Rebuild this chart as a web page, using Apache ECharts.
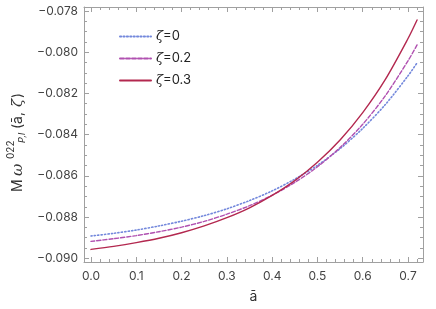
<!DOCTYPE html>
<html><head><meta charset="utf-8">
<script src="https://cdn.jsdelivr.net/npm/echarts@6/dist/echarts.min.js"></script>
<style>html,body{margin:0;padding:0;background:#fff}#c{width:436px;height:309px}</style>
</head><body><div id="c"></div>
<script>
const aBar = [0,0.05,0.1,0.15,0.2,0.25,0.3,0.35,0.4,0.45,0.5,0.55,0.6,0.65,0.7,0.72];
const zeta0  = [-0.08892,-0.08879,-0.08863,-0.08843,-0.08820,-0.08793,-0.08760,-0.08720,-0.08673,-0.08616,-0.08549,-0.08468,-0.08370,-0.08254,-0.08115,-0.08052];
const zeta02 = [-0.08918,-0.08905,-0.08890,-0.08871,-0.08849,-0.08821,-0.08786,-0.08745,-0.08694,-0.08632,-0.08556,-0.08463,-0.08350,-0.08211,-0.08042,-0.07965];
const zeta03 = [-0.08957,-0.08942,-0.08924,-0.08903,-0.08876,-0.08843,-0.08803,-0.08755,-0.08695,-0.08623,-0.08534,-0.08426,-0.08293,-0.08132,-0.07934,-0.07844];
const seriesNames = ['ζ=0','ζ=0.2','ζ=0.3'];
const xMajor = [0,0.1,0.2,0.3,0.4,0.5,0.6,0.7];
const xMinor = [0.02,0.04,0.06,0.08,0.12,0.14,0.16,0.18,0.22,0.24,0.26,0.28,0.32,0.34,0.36,0.38,0.42,0.44,0.46,0.48,0.52,0.54,0.56,0.58,0.62,0.64,0.66,0.68,0.72];
const yMajor = [-0.090,-0.088,-0.086,-0.084,-0.082,-0.080,-0.078];
const yMinor = [-0.0895,-0.089,-0.0885,-0.0875,-0.087,-0.0865,-0.0855,-0.085,-0.0845,-0.0835,-0.083,-0.0825,-0.0815,-0.081,-0.0805,-0.0795,-0.079,-0.0785];

const FONT = 'Inter';
const FRAME = '#a0a0a0';
const X_MIN = -0.01546, X_MAX = 0.7331, Y_MIN = -0.09018, Y_MAX = -0.07781;

function xAx(pos, ticks, len, showLine, labels) {
  return {
    type:'value', position:pos, min:X_MIN, max:X_MAX,
    axisLine:{show:showLine, onZero:false, lineStyle:{color:FRAME, width:1}},
    axisTick:{show:true, inside:true, length:len, customValues:ticks, lineStyle:{color:FRAME}},
    axisLabel: labels ? {show:true, customValues:ticks, margin:8, color:'#444', fontFamily:FONT, fontSize:12,
      formatter:v=>v.toFixed(1)} : {show:false},
    splitLine:{show:false}
  };
}
function yAx(pos, ticks, len, showLine, labels) {
  return {
    type:'value', position:pos, min:Y_MIN, max:Y_MAX,
    axisLine:{show:showLine, onZero:false, lineStyle:{color:FRAME, width:1}},
    axisTick:{show:true, inside:true, length:len, customValues:ticks, lineStyle:{color:FRAME}},
    axisLabel: labels ? {show:true, customValues:ticks, margin:6, color:'#444', fontFamily:FONT, fontSize:12,
      formatter:v=>(v<0?'\u2212':'')+Math.abs(v).toFixed(3)} : {show:false},
    splitLine:{show:false}
  };
}

const xAxes = [xAx('bottom',xMajor,5,true,true), xAx('bottom',xMinor,3,false,false), xAx('top',xMajor,5,true,false), xAx('top',xMinor,3,false,false)];
xAxes[0].name = 'ā';
xAxes[0].nameLocation = 'middle';
xAxes[0].nameGap = 28;
xAxes[0].nameTextStyle = {fontFamily:FONT, fontSize:14, color:'#333'};
const yAxes = [yAx('left',yMajor,5,true,true), yAx('left',yMinor,3,false,false), yAx('right',yMajor,5,true,false), yAx('right',yMinor,3,false,false)];

const colors = ['#7388dc','#b050b0','#b3284f'];
const dashes = [[1.2,2.2],[4,2],'solid'];
const widths = [1.6,1.4,1.4];
const vals = [zeta0, zeta02, zeta03];

const series = vals.map((arr,i)=>({
  name: seriesNames[i], type:'line', xAxisIndex:0, yAxisIndex:0,
  data: aBar.map((a,j)=>[a,arr[j]]),
  showSymbol:false, symbol:'none', smooth:0.3,
  lineStyle:{color:colors[i], type:dashes[i], width:widths[i], cap:'round'},
  itemStyle:{color:colors[i]}
}));

const chart = echarts.init(document.getElementById('c'), null, {renderer:'canvas'});
chart.setOption({
  animation:false,
  grid:{left:84, right:13, top:7, bottom:47, containLabel:false},
  xAxis:xAxes, yAxis:yAxes,
  legend:{
    orient:'vertical', left:114, top:25, itemWidth:31, itemHeight:14, itemGap:9,
    data:seriesNames,
    itemStyle:{opacity:0},
    textStyle:{fontFamily:FONT, fontSize:13, color:'#222',
      rich:{z:{fontFamily:'DejaVu Serif', fontStyle:'italic', fontSize:13, color:'#222'}, t:{fontFamily:FONT, fontSize:13, color:'#222'}}},
    formatter: n => '{z|ζ}{t|' + n.slice(1) + '}'
  },
  series:series,
  graphic:[{
    type:'group', x:18, y:192, rotation:Math.PI/2,
    children:[
      {type:'text', x:0, y:0, style:{text:'M', font:'14px Inter', fill:'#333', verticalAlign:'middle', align:'left'}},
      {type:'text', x:16, y:0, style:{text:'ω', font:'italic 15px "DejaVu Serif"', fill:'#333', verticalAlign:'middle', align:'left'}},
      {type:'text', x:33, y:-7.5, style:{text:'022', font:'10px Inter', fill:'#333', verticalAlign:'middle', align:'left'}},
      {type:'text', x:49, y:4.5, style:{text:'P,l', font:'italic 9px Inter', fill:'#333', verticalAlign:'middle', align:'left'}},
      {type:'text', x:63, y:0, style:{text:'(ā,', font:'14px Inter', fill:'#333', verticalAlign:'middle', align:'left'}},
      {type:'text', x:85, y:0, style:{text:'ζ', font:'italic 15px "DejaVu Serif"', fill:'#333', verticalAlign:'middle', align:'left'}},
      {type:'text', x:94, y:0, style:{text:')', font:'14px Inter', fill:'#333', verticalAlign:'middle', align:'left'}}
    ]
  }]
});
</script></body></html>
